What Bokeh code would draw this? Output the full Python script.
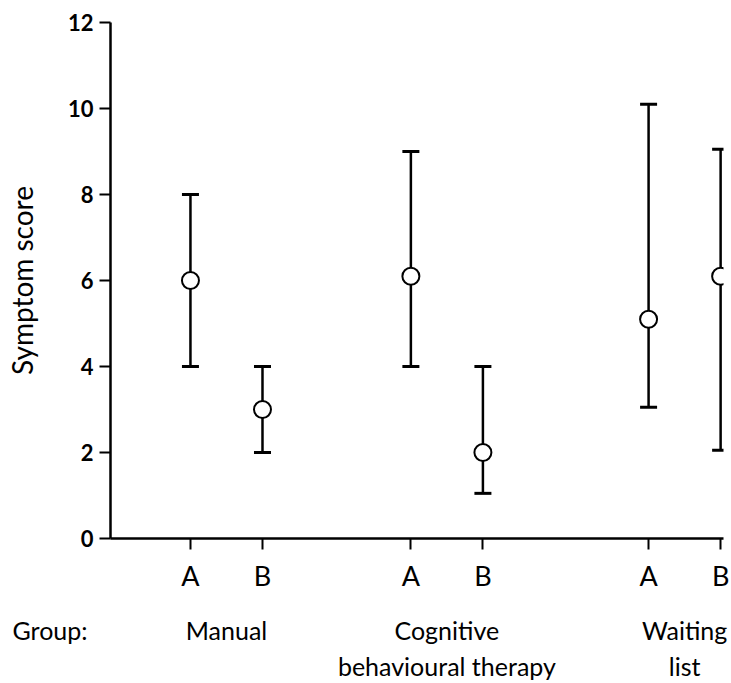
from bokeh.plotting import figure
from bokeh.layouts import column
from bokeh.models import (ColumnDataSource, Range1d, FixedTicker, Whisker, TeeHead,
                          CustomJSTickFormatter)
from bokeh.core.properties import value
from bokeh.embed import file_html
from bokeh.resources import INLINE

# ---- data ----
group_lines = [["Manual"], ["Cognitive", "behavioural therapy"], ["Waiting", "list"]]
subgroups = ["A", "B"]
means = [6.0, 3.0, 6.1, 2.0, 5.1, 6.1]
lower = [4.0, 2.0, 4.0, 1.05, 3.05, 2.05]
upper = [8.0, 4.0, 9.0, 4.0, 10.1, 9.05]
y_ticks = [0, 2, 4, 6, 8, 10, 12]
y_label = "Symptom score"
group_title = "Group:"

# ---- layout ----
group_starts = [0.0, 3.06, 6.36]
xs = [g + k for g in group_starts for k in range(len(subgroups))]
sub_labels = [s for _ in group_starts for s in subgroups]

FONT = "Lato"
W = 731
MAIN_H, LOW_H = 600, 83
BL, BR, BT, BB = 110, 8, 22, 62
X0, X1 = -1.11, 7.40
ppu_x = (W - BL - BR) / (X1 - X0)

src = ColumnDataSource(dict(x=xs, mean=means, lower=lower, upper=upper))

p = figure(width=W, height=MAIN_H, output_backend="svg", toolbar_location=None,
           x_range=Range1d(X0, X1), y_range=Range1d(0, 12),
           min_border_left=BL, min_border_right=BR, min_border_top=BT,
           min_border_bottom=BB)
p.frame_align = False
p.outline_line_color = None
p.xgrid.visible = False
p.ygrid.visible = False

# error bars
p.add_layout(Whisker(source=src, base="x", upper="upper", lower="lower", dimension="height",
                     line_color="black", line_width=2.5,
                     upper_head=TeeHead(size=17, line_width=3, line_color="black"),
                     lower_head=TeeHead(size=17, line_width=3, line_color="black")))

p.scatter("x", "mean", source=src, size=17, marker="circle",
          fill_color="white", line_color="black", line_width=2)

# axes
for ax in (p.xaxis[0], p.yaxis[0]):
    ax.axis_line_width = 2.5
    ax.axis_line_color = "black"
    ax.major_tick_line_width = 2
    ax.major_tick_line_color = "black"
    ax.major_tick_out = 11
    ax.major_tick_in = 0
    ax.minor_tick_line_color = None
    ax.major_label_text_font = FONT
    ax.major_label_text_color = "black"

p.yaxis.ticker = FixedTicker(ticks=y_ticks)
p.yaxis.major_label_text_font_size = "22px"
p.yaxis.major_label_text_font_style = "bold"
p.yaxis.major_label_standoff = 6
p.yaxis.axis_label = y_label
p.yaxis.axis_label_text_font = FONT
p.yaxis.axis_label_text_font_size = "28px"
p.yaxis.axis_label_text_font_style = "normal"
p.yaxis.axis_label_text_color = "black"
p.yaxis.axis_label_standoff = 26

p.xaxis.ticker = FixedTicker(ticks=xs)
p.xaxis.formatter = CustomJSTickFormatter(args=dict(pos=xs, lab=sub_labels), code="""
let best = 0, d = 1e9;
for (let i = 0; i < pos.length; i++) {
  const e = Math.abs(pos[i] - tick);
  if (e < d) { d = e; best = i; }
}
return lab[best];
""")
p.xaxis.major_label_text_font_size = "27px"
p.xaxis.major_label_standoff = 9

# ---- lower strip with the group names: same x scale, frame spans the full width ----
q = figure(width=W, height=LOW_H, output_backend="svg", toolbar_location=None,
           title=None,
           x_range=Range1d(X0 - BL / ppu_x, X1 + BR / ppu_x),
           y_range=Range1d(LOW_H, 0),
           min_border=0, x_axis_location=None, y_axis_location=None)
q.frame_align = False
q.outline_line_color = None
q.xgrid.visible = False
q.ygrid.visible = False

line_px = [29, 65]  # text baselines from the top of the strip
tx, ty, tt = [], [], []
for gi, lines in enumerate(group_lines):
    cx = group_starts[gi] + (len(subgroups) - 1) / 2
    for li, txt in enumerate(lines):
        tx.append(cx)
        ty.append(line_px[li])
        tt.append(txt)
q.text(x=tx, y=ty, text=tt, text_align="center", text_baseline="alphabetic",
       text_font=value(FONT), text_font_size="25px", text_color="black")
q.text(x=[X0 - 98 / ppu_x], y=[line_px[0]], text=[group_title],
       text_align="left", text_baseline="alphabetic",
       text_font=value(FONT), text_font_size="25px", text_color="black")

layout = column(p, q, spacing=0)
open("out.html", "w").write(file_html(layout, INLINE))
